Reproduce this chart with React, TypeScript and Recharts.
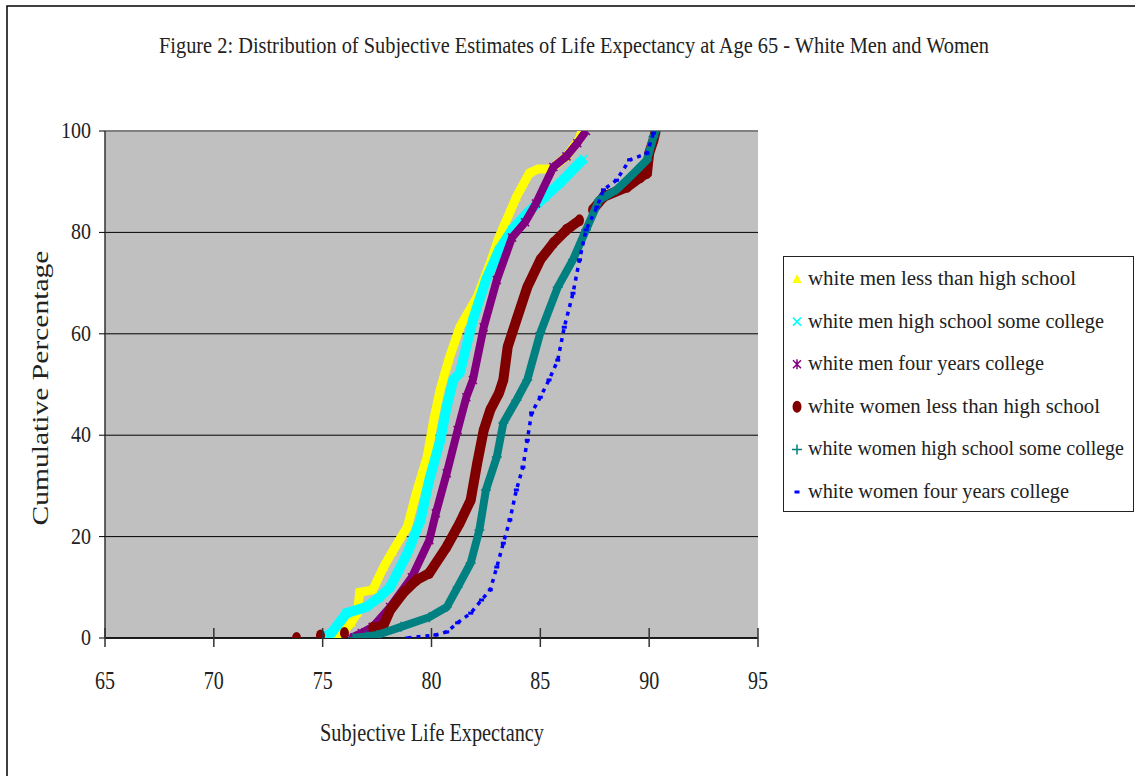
import React from 'react';
import {
    ScatterChart,
    Scatter,
    XAxis,
    YAxis,
    CartesianGrid,
    ReferenceLine,
    Legend
} from 'recharts';

// 軸の目盛り
const ageTicks = [65, 70, 75, 80, 85, 90, 95];
const pctTicks = [0, 20, 40, 60, 80, 100];

// white men less than high school
const menLessHsAge = [75.5, 75.9, 76.3, 76.6, 76.7, 77.3, 77.8, 78.2, 78.9, 79.3, 79.8, 80.1, 80.4, 80.8, 81.3, 82.1, 82.7, 83.1, 83.9, 84.5, 84.9, 85.5, 86.2, 86.8, 86.9];
const menLessHsPct = [0, 1, 3, 5, 9, 9.5, 14, 17, 22, 28.6, 35.7, 43, 49, 55, 61.3, 67.3, 74, 79, 87, 91.7, 92.5, 92.5, 95, 98.5, 100];

// white men high school / some college
const menHsSomeAge = [75.0, 75.4, 76.1, 77.0, 77.6, 78.1, 78.9, 79.5, 79.9, 80.4, 80.7, 81.0, 81.3, 81.9, 82.5, 83.1, 83.7, 84.4, 85.2, 85.9, 86.8, 87.0];
const menHsSomePct = [0, 1, 4.9, 6.1, 8, 10, 16.8, 23.3, 31.2, 39, 45.6, 50.9, 52.3, 62.7, 70.6, 76.5, 80.5, 83.8, 87, 89.7, 93.7, 94.5];

// white men four years college
const menFourAge = [76.3, 76.8, 77.3, 78.1, 79.1, 79.9, 80.2, 80.7, 81.2, 81.6, 81.9, 82.4, 83.0, 83.7, 84.3, 84.8, 85.6, 86.2, 86.7, 87.1];
const menFourPct = [0, 1, 2.2, 6.1, 12, 19.3, 24.6, 32.5, 41, 47.5, 50.9, 61.3, 70.6, 79, 82, 85.7, 92.9, 95, 97.6, 100];

// white women less than high school
const womenLessHsTailAge = [73.8, 74.9, 76.0];
const womenLessHsTailPct = [0, 0.5, 1];
const womenLessHsAge = [77.3, 77.8, 78.1, 78.7, 79.3, 79.9, 80.7, 81.3, 81.8, 82.1, 82.4, 82.7, 83.1, 83.3, 83.5, 83.9, 84.4, 85.0, 85.6, 86.2, 86.8];
const womenLessHsPct = [2, 2.5, 5.5, 8.9, 11.4, 12.8, 18, 22.7, 27.2, 34.5, 41, 45, 48.3, 50.9, 57.4, 62.7, 69.2, 74.6, 77.9, 80.5, 82.4];
const womenLessHsTopAge = [87.4, 87.9, 89.0, 89.6, 89.9, 90.0, 90.2, 90.3];
const womenLessHsTopPct = [84.4, 87, 89, 90.9, 91.7, 95.6, 98.2, 100];

// white women high school / some college
const womenHsSomeAge = [76.4, 77.0, 77.5, 78.6, 79.9, 80.7, 81.2, 81.8, 82.2, 82.5, 83.0, 83.3, 83.9, 84.4, 85.0, 85.8, 86.5, 87.1, 87.7, 88.5, 89.3, 89.9, 90.2, 90.3];
const womenHsSomePct = [0, 0.3, 0.6, 2.2, 4.1, 6.1, 10, 14.8, 21.3, 29.2, 35.7, 42.4, 46.9, 50.9, 60.2, 69.2, 74.6, 80.5, 86.4, 88.4, 91.7, 94.3, 98.8, 100];

// white women four years college
const womenFourAge = [78.9, 80.2, 80.7, 81.2, 81.8, 82.3, 82.7, 83.0, 83.3, 83.6, 83.9, 84.2, 84.4, 84.6, 85.0, 85.4, 85.8, 86.1, 86.5, 86.8, 87.1, 87.6, 87.9, 88.5, 89.1, 89.9, 90.2];
const womenFourPct = [0, 0.6, 1.2, 3, 4.9, 7.5, 9.5, 14, 18.7, 23.3, 29.2, 33.7, 39, 44.4, 47.5, 50.9, 54.8, 61.3, 68, 74.6, 80.5, 85, 88.4, 90.3, 94.3, 95.6, 99.6];

const toPoints = (xs: number[], ys: number[]) => xs.map((x, i) => ({ x, y: ys[i] }));

const FONT = '"Liberation Serif", "Times New Roman", serif';
const TEXT = '#222';

// マーカー形状
const markTriangle = (color: string) => (p: any) => (
    <polygon points={`${p.cx},${p.cy - 5} ${p.cx + 4.5},${p.cy + 4} ${p.cx - 4.5},${p.cy + 4}`} fill={color} />
);
const markCross = (color: string) => (p: any) => (
    <path d={`M${p.cx - 4},${p.cy - 4}L${p.cx + 4},${p.cy + 4}M${p.cx + 4},${p.cy - 4}L${p.cx - 4},${p.cy + 4}`} stroke={color} strokeWidth={1.5} />
);
const markStar = (color: string) => (p: any) => (
    <path d={`M${p.cx - 4},${p.cy - 4}L${p.cx + 4},${p.cy + 4}M${p.cx + 4},${p.cy - 4}L${p.cx - 4},${p.cy + 4}M${p.cx},${p.cy - 5}L${p.cx},${p.cy + 5}`} stroke={color} strokeWidth={1.5} />
);
const markDot = (color: string) => (p: any) => (
    <ellipse cx={p.cx} cy={p.cy} rx={4.5} ry={6} fill={color} />
);
const markPlus = (color: string) => (p: any) => (
    <path d={`M${p.cx - 5},${p.cy}L${p.cx + 5},${p.cy}M${p.cx},${p.cy - 5}L${p.cx},${p.cy + 5}`} stroke={color} strokeWidth={1.5} />
);
const markDash = (color: string) => (p: any) => (
    <rect x={p.cx - 2.5} y={p.cy - 1.5} width={5} height={3} fill={color} />
);

const SERIES = [
    { name: 'white men less than high school', color: '#FFFF00', marker: markTriangle, width: 268 },
    { name: 'white men high school some college', color: '#00FFFF', marker: markCross, width: 296 },
    { name: 'white men four years college', color: '#800080', marker: markStar, width: 236 },
    { name: 'white women less than high school', color: '#800000', marker: markDot, width: 292 },
    { name: 'white women high school some college', color: '#008080', marker: markPlus, width: 316 },
    { name: 'white women four years college', color: '#0000FF', marker: markDash, width: 261 },
];

const LegendBox = () => (
    <svg width={352} height={256} style={{ display: 'block' }}>
        <rect x={0.5} y={0.5} width={350} height={255} fill="#fff" stroke="#222" strokeWidth={1} />
        {SERIES.map((s, i) => {
            const cy = 21 + i * 42.6;
            return (
                <g key={s.name}>
                    {s.marker(s.color)({ cx: 14, cy: cy + 2 })}
                    <text x={25} y={cy + 8} fontFamily={FONT} fontSize={20} fill={TEXT}
                        textLength={s.width} lengthAdjust="spacingAndGlyphs">{s.name}</text>
                </g>
            );
        })}
    </svg>
);

const XTick = (props: any) => {
    const { x, y, payload } = props;
    return (
        <g>
            <line x1={x} x2={x} y1={y - 10} y2={y + 9} stroke="#333" strokeWidth={1.5} />
            <text x={x} y={y + 51} textAnchor="middle" fontFamily={FONT} fontSize={25} fill={TEXT}
                textLength={20} lengthAdjust="spacingAndGlyphs">{payload.value}</text>
        </g>
    );
};

const YTick = (props: any) => {
    const { x, y, payload } = props;
    const s = String(payload.value);
    return (
        <text x={x} y={y + 7} textAnchor="end" fontFamily={FONT} fontSize={23} fill={TEXT}
            textLength={s.length * 10} lengthAdjust="spacingAndGlyphs">{s}</text>
    );
};

export default function App() {
    return (
        <div style={{ position: 'absolute', left: 0, top: 0, width: 1135, height: 776, background: '#fff' }}>
            <ScatterChart
                width={1135}
                height={776}
                margin={{ top: 131, right: 377, bottom: 78, left: 45 }}
            >
                <CartesianGrid vertical={false} stroke="#000" strokeWidth={1} fill="#C0C0C0" fillOpacity={1} />
                <ReferenceLine y={100} stroke="#808080" strokeWidth={2} />
                <XAxis
                    type="number"
                    dataKey="x"
                    domain={[65, 95]}
                    ticks={ageTicks}
                    allowDataOverflow
                    height={60}
                    tickSize={0}
                    tickMargin={0}
                    tickLine={false}
                    axisLine={{ stroke: '#000', strokeWidth: 1.5 }}
                    tick={<XTick />}
                />
                <YAxis
                    type="number"
                    dataKey="y"
                    domain={[0, 100]}
                    ticks={pctTicks}
                    allowDataOverflow
                    width={60}
                    tickSize={6}
                    tickMargin={8}
                    tickLine={{ stroke: '#000' }}
                    axisLine={{ stroke: '#333', strokeWidth: 1.5 }}
                    tick={<YTick />}
                />
                <Scatter name={SERIES[0].name} data={toPoints(menLessHsAge, menLessHsPct)} fill={SERIES[0].color}
                    line={{ stroke: SERIES[0].color, strokeWidth: 9 }} shape={markTriangle(SERIES[0].color)} isAnimationActive={false} />
                <Scatter name={SERIES[1].name} data={toPoints(menHsSomeAge, menHsSomePct)} fill={SERIES[1].color}
                    line={{ stroke: SERIES[1].color, strokeWidth: 10 }} shape={markCross(SERIES[1].color)} isAnimationActive={false} />
                <Scatter name={SERIES[2].name} data={toPoints(menFourAge, menFourPct)} fill={SERIES[2].color}
                    line={{ stroke: SERIES[2].color, strokeWidth: 8 }} shape={markStar(SERIES[2].color)} isAnimationActive={false} />
                <Scatter name={SERIES[3].name} data={toPoints(womenLessHsAge, womenLessHsPct)} fill={SERIES[3].color}
                    line={{ stroke: SERIES[3].color, strokeWidth: 10 }} shape={markDot(SERIES[3].color)} isAnimationActive={false} />
                <Scatter name="women-less-tail" legendType="none" data={toPoints(womenLessHsTailAge, womenLessHsTailPct)}
                    fill={SERIES[3].color} shape={markDot(SERIES[3].color)} isAnimationActive={false} />
                <Scatter name="women-less-top" legendType="none" data={toPoints(womenLessHsTopAge, womenLessHsTopPct)} fill={SERIES[3].color}
                    line={{ stroke: SERIES[3].color, strokeWidth: 10 }} shape={markDot(SERIES[3].color)} isAnimationActive={false} />
                <Scatter name={SERIES[4].name} data={toPoints(womenHsSomeAge, womenHsSomePct)} fill={SERIES[4].color}
                    line={{ stroke: SERIES[4].color, strokeWidth: 8 }} shape={markPlus(SERIES[4].color)} isAnimationActive={false} />
                <Scatter name={SERIES[5].name} data={toPoints(womenFourAge, womenFourPct)} fill={SERIES[5].color}
                    line={{ stroke: SERIES[5].color, strokeWidth: 3.5, strokeDasharray: '4 5' }} shape={markDash(SERIES[5].color)} isAnimationActive={false} />
                <Legend
                    layout="vertical"
                    align="center"
                    verticalAlign="middle"
                    content={() => <LegendBox />}
                    wrapperStyle={{ position: 'absolute', left: 783, top: 256, width: 352, height: 256 }}
                />
            </ScatterChart>

            {/* タイトル・軸ラベル・外枠 */}
            <svg width={1135} height={776} style={{ position: 'absolute', left: 0, top: 0, pointerEvents: 'none' }}>
                <path d="M7,776 L7,6 L1135,6" fill="none" stroke="#000" strokeWidth={1.5} />
                <text x={574} y={53} textAnchor="middle" fontFamily={FONT} fontSize={23} fill={TEXT}
                    textLength={830} lengthAdjust="spacingAndGlyphs">
                    Figure 2: Distribution of Subjective Estimates of Life Expectancy at Age 65 - White Men and Women
                </text>
                <text x={432} y={741} textAnchor="middle" fontFamily={FONT} fontSize={25} fill={TEXT}
                    textLength={224} lengthAdjust="spacingAndGlyphs">Subjective Life Expectancy</text>
                <text x={0} y={0} transform="translate(48,388) rotate(-90)" textAnchor="middle" fontFamily={FONT} fontSize={24} fill={TEXT}
                    textLength={275} lengthAdjust="spacingAndGlyphs">Cumulative Percentage</text>
            </svg>
        </div>
    );
}
